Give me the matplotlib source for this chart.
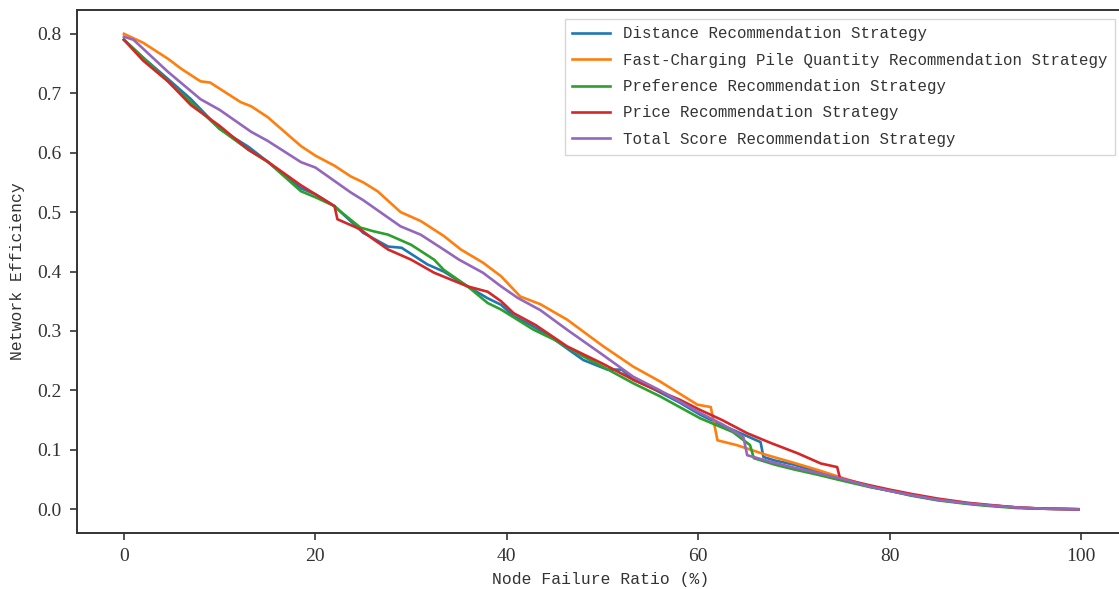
import matplotlib
matplotlib.use("Agg")
import matplotlib.pyplot as plt

# Données
x_dist = [0, 2, 4.6, 7, 10, 13, 15, 18.5, 20, 22, 23, 25, 27.6, 29, 31.7, 33.4, 35.9, 38,
          39.4, 40.7, 42.5, 44.6, 46.5, 48, 50.5, 52, 53.2, 55, 58, 60.2, 62, 64.4, 66.5,
          66.8, 68, 70, 72.5, 75, 78, 80, 82.2, 85, 88.1, 90, 93.3, 96, 99.7]
y_dist = [0.79, 0.76, 0.724, 0.69, 0.64, 0.61, 0.585, 0.54, 0.53, 0.51, 0.495, 0.465, 0.442,
          0.44, 0.412, 0.40, 0.375, 0.355, 0.344, 0.325, 0.31, 0.29, 0.268, 0.251, 0.235,
          0.235, 0.218, 0.205, 0.18, 0.159, 0.145, 0.128, 0.113, 0.088, 0.082, 0.075, 0.063,
          0.05, 0.038, 0.031, 0.024, 0.016, 0.010, 0.007, 0.003, 0.001, 0.0]

x_fast = [0, 2, 4.6, 6, 8, 9, 12.2, 13.3, 15, 18.5, 20, 22, 23.7, 25, 26.5, 28.9, 31, 33.4,
          35.2, 37.5, 39.4, 41.4, 43.5, 46.3, 50, 53.2, 56, 59.9, 61.3, 62, 64, 67.2, 70,
          72.5, 74.8, 78, 80, 82.2, 85, 88.1, 90, 93.3, 96, 99.7]
y_fast = [0.80, 0.785, 0.758, 0.741, 0.72, 0.718, 0.685, 0.678, 0.66, 0.611, 0.595, 0.578,
          0.56, 0.55, 0.535, 0.50, 0.485, 0.46, 0.437, 0.415, 0.392, 0.358, 0.345, 0.319,
          0.275, 0.24, 0.215, 0.176, 0.172, 0.116, 0.108, 0.091, 0.078, 0.066, 0.054, 0.038,
          0.031, 0.024, 0.016, 0.010, 0.007, 0.003, 0.001, 0.0]

x_pref = [0, 2, 4.6, 7, 10, 13, 15, 18.5, 20, 22, 22.7, 24.7, 26, 27.6, 30, 32.4, 33.4, 35.9,
          38, 39.4, 42.8, 45, 48, 50, 53.2, 56, 60.2, 63.6, 65.4, 65.8, 68, 70, 72.5, 74.8,
          78, 80, 82.2, 85, 88.1, 90, 93.3, 96, 99.7]
y_pref = [0.79, 0.76, 0.72, 0.685, 0.64, 0.605, 0.585, 0.535, 0.525, 0.51, 0.50, 0.474,
          0.468, 0.462, 0.445, 0.42, 0.403, 0.375, 0.347, 0.336, 0.302, 0.285, 0.257, 0.24,
          0.212, 0.19, 0.153, 0.13, 0.108, 0.086, 0.075, 0.067, 0.058, 0.049, 0.037, 0.031,
          0.023, 0.015, 0.009, 0.006, 0.002, 0.001, 0.0]

x_prix = [0, 2, 4.6, 7, 10, 13, 15, 18.5, 20, 22, 22.3, 24.7, 26, 27.6, 30, 32.4, 35.9, 38,
          39.4, 40.7, 43, 46.3, 50, 53.2, 55, 58.1, 60.2, 62.5, 65.1, 67.5, 70.4, 72.8, 74.5,
          74.8, 78, 80, 82.2, 85, 88.1, 90, 93.3, 96, 99.7]
y_prix = [0.79, 0.755, 0.72, 0.68, 0.645, 0.605, 0.585, 0.545, 0.53, 0.51, 0.488, 0.471,
          0.455, 0.437, 0.42, 0.398, 0.375, 0.366, 0.35, 0.33, 0.31, 0.274, 0.245, 0.218,
          0.205, 0.184, 0.167, 0.15, 0.128, 0.112, 0.094, 0.077, 0.071, 0.052, 0.04, 0.033,
          0.026, 0.018, 0.011, 0.008, 0.003, 0.001, 0.0]

x_total = [0, 1, 4.6, 8, 10, 13.3, 15, 18.5, 20, 23.7, 25, 28.9, 31, 33.4, 35, 37.5, 39.4,
           41.1, 43.5, 46.3, 50, 53.2, 56, 60.2, 62.5, 64.7, 65.1, 67.5, 70, 72.5, 74.8, 78,
           80, 82.2, 85, 88.1, 90, 93.3, 96, 99.7]
y_total = [0.795, 0.79, 0.736, 0.69, 0.672, 0.635, 0.62, 0.584, 0.575, 0.533, 0.52, 0.476,
           0.462, 0.437, 0.42, 0.398, 0.375, 0.356, 0.335, 0.302, 0.26, 0.223, 0.2, 0.162,
           0.143, 0.122, 0.091, 0.08, 0.07, 0.061, 0.052, 0.038, 0.031, 0.024, 0.016, 0.010,
           0.007, 0.003, 0.001, 0.0]

series = [
    (x_dist, y_dist, "Distance Recommendation Strategy"),
    (x_fast, y_fast, "Fast-Charging Pile Quantity Recommendation Strategy"),
    (x_pref, y_pref, "Preference Recommendation Strategy"),
    (x_prix, y_prix, "Price Recommendation Strategy"),
    (x_total, y_total, "Total Score Recommendation Strategy"),
]

fig = plt.figure(figsize=(11.19, 5.89), dpi=100)
ax = fig.add_axes([0.0688, 0.095, 0.936, 0.888])

for xs, ys, nom in series:
    ax.plot(xs, ys, linewidth=1.9, label=nom)

ax.set_xlim(-4.9, 104.5)
ax.set_ylim(-0.04, 0.84)
ax.set_xticks([0, 20, 40, 60, 80, 100])
ax.set_yticks([0.0, 0.1, 0.2, 0.3, 0.4, 0.5, 0.6, 0.7, 0.8])

for lab in ax.get_xticklabels() + ax.get_yticklabels():
    lab.set_fontfamily("Liberation Serif")
    lab.set_fontsize(14)
ax.tick_params(length=5, width=1.2, colors="#333333", pad=6)
for s in ax.spines.values():
    s.set_linewidth(1.4)
    s.set_color("#333333")

ax.set_xlabel("Node Failure Ratio (%)", fontfamily="Liberation Mono", fontsize=11.8,
              color="#333333", labelpad=5)
ax.set_ylabel("Network Efficiency", fontfamily="Liberation Mono", fontsize=11.8,
              color="#333333", labelpad=9)

leg = ax.legend(loc="upper right", bbox_to_anchor=(0.9985, 0.9985),
                prop={"family": "Liberation Mono", "size": 11.3},
                labelspacing=0.72, handlelength=2.4, borderpad=0.5, fancybox=False)
leg.get_frame().set_edgecolor("#cccccc")
for t in leg.get_texts():
    t.set_color("#333333")

fig.savefig("out.png", dpi=100)
